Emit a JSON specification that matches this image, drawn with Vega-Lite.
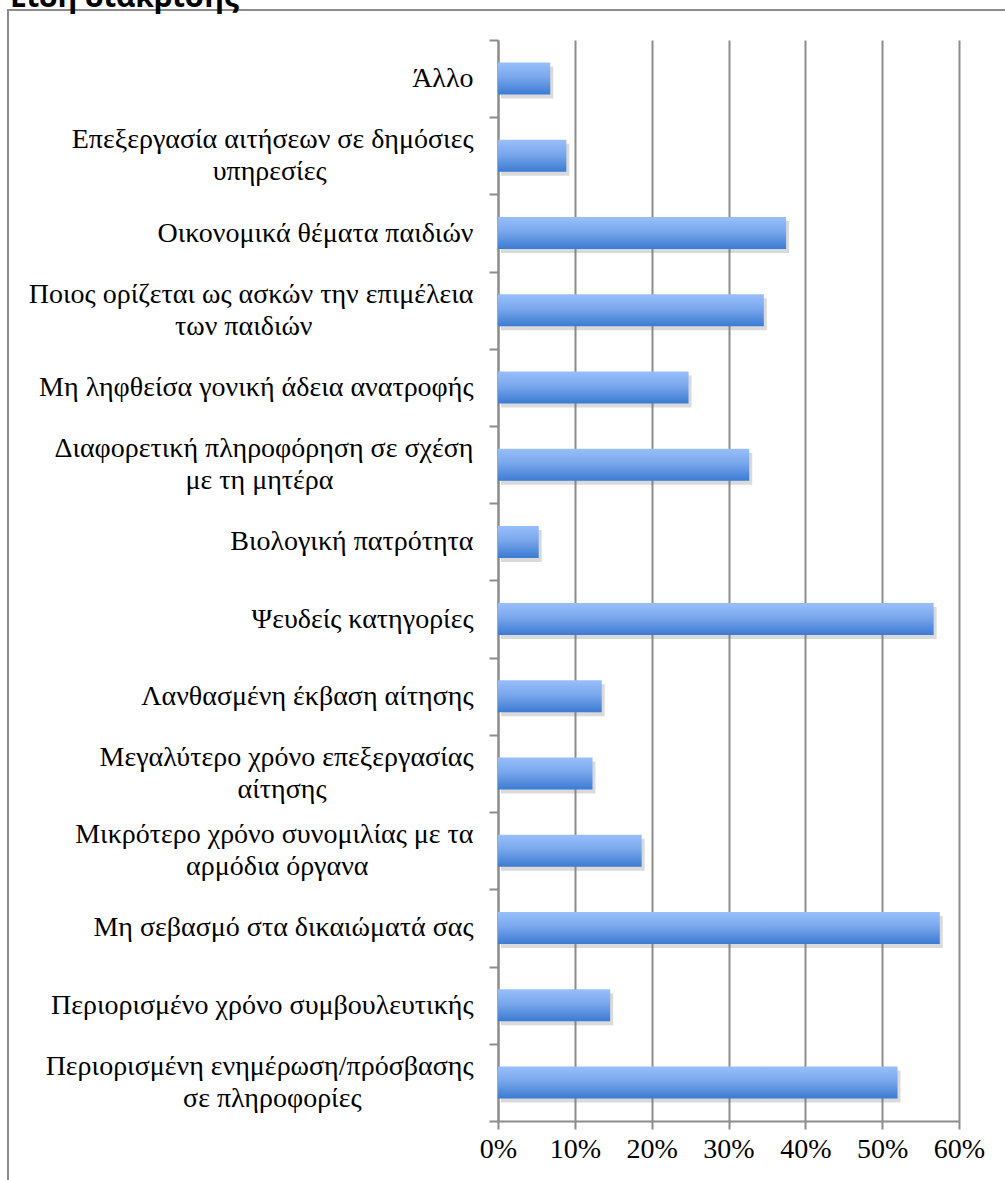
{
  "$schema": "https://vega.github.io/schema/vega-lite/v6.json",
  "autosize": "none",
  "padding": {"left": 498, "top": 40, "right": 46, "bottom": 59},
  "width": 461,
  "height": 1081,
  "background": "white",
  "config": {
    "view": {"stroke": null},
    "axis": {
      "labelFont": "Liberation Serif",
      "labelFontSize": 28,
      "labelColor": "#000000",
      "domainColor": "#8c8c8c",
      "domainWidth": 2,
      "tickColor": "#8c8c8c",
      "tickWidth": 2,
      "gridColor": "#8c8c8c",
      "gridWidth": 2,
      "gridOpacity": 1
    }
  },
  "data": {
    "values": [
      {"category": "Άλλο", "share": 0.068},
      {"category": "Επεξεργασία αιτήσεων σε δημόσιες|υπηρεσίες", "share": 0.089},
      {"category": "Οικονομικά θέματα παιδιών", "share": 0.375},
      {"category": "Ποιος ορίζεται ως ασκών την επιμέλεια|των παιδιών", "share": 0.346},
      {"category": "Μη ληφθείσα γονική άδεια ανατροφής", "share": 0.248},
      {"category": "Διαφορετική πληροφόρηση σε σχέση|με τη μητέρα", "share": 0.327},
      {"category": "Βιολογική πατρότητα", "share": 0.053},
      {"category": "Ψευδείς κατηγορίες", "share": 0.567},
      {"category": "Λανθασμένη έκβαση αίτησης", "share": 0.135},
      {"category": "Μεγαλύτερο χρόνο επεξεργασίας|αίτησης", "share": 0.123},
      {"category": "Μικρότερο χρόνο συνομιλίας με τα|αρμόδια όργανα", "share": 0.187},
      {"category": "Μη σεβασμό στα δικαιώματά σας", "share": 0.575},
      {"category": "Περιορισμένο χρόνο συμβουλευτικής", "share": 0.146},
      {"category": "Περιορισμένη ενημέρωση/πρόσβασης|σε πληροφορίες", "share": 0.52}
    ]
  },
  "layer": [
    {
      "data": {"values": [{}]},
      "mark": {"type": "rect", "fill": null, "stroke": "#8c8c8c", "strokeWidth": 2, "clip": false},
      "encoding": {
        "x": {"value": -490},
        "x2": {"value": 520},
        "y": {"value": -30},
        "y2": {"value": 1160}
      }
    },
    {
      "data": {"values": [{"heading": "Είδη διάκρισης"}]},
      "mark": {"type": "text", "font": "Open Sans", "fontSize": 30, "fontWeight": "bold", "color": "#000000", "align": "left", "baseline": "alphabetic", "clip": false},
      "encoding": {
        "text": {"field": "heading"},
        "x": {"value": -488},
        "y": {"value": -33}
      }
    },
    {
      "mark": {"type": "bar", "size": 32, "color": "#7a7a7a", "opacity": 0.28, "xOffset": 3, "yOffset": 4},
      "encoding": {
        "y": {"field": "category", "type": "nominal", "sort": null},
        "x": {"field": "share", "type": "quantitative"}
      }
    },
    {
      "mark": {
        "type": "bar",
        "size": 32,
        "color": {
          "gradient": "linear",
          "x1": 0, "y1": 0, "x2": 0, "y2": 1,
          "stops": [
            {"offset": 0, "color": "#98bffb"},
            {"offset": 0.45, "color": "#7aa7ec"},
            {"offset": 1, "color": "#3b7bd2"}
          ]
        }
      },
      "encoding": {
        "y": {
          "field": "category",
          "type": "nominal",
          "sort": null,
          "title": null,
          "scale": {"paddingInner": 0, "paddingOuter": 0},
          "axis": {
            "tickBand": "extent",
            "tickSize": 9,
            "labelPadding": 16,
            "labelAlign": "right",
            "labelOffset": {"condition": {"test": "indexof(datum.value || '', '|') >= 0", "value": -16}, "value": 0},
            "labelExpr": "!datum.value ? '' : indexof(datum.value, '|') < 0 ? datum.value : [split(datum.value, '|')[0], pad(split(datum.value, '|')[1], length(split(datum.value, '|')[1]) + (indexof(datum.value, 'υπηρεσίες') >= 0 ? 21 : indexof(datum.value, 'των παιδιών') >= 0 ? 23 : indexof(datum.value, 'μητέρα') >= 0 ? 20 : indexof(datum.value, 'Μεγαλύτερο') >= 0 ? 21 : indexof(datum.value, 'όργανα') >= 0 ? 15 : 16), '\u00a0') + '\u200b']",
            "labelLineHeight": 32,
            "labelLimit": 600,
            "labelOverlap": false,
            "labelBound": false
          }
        },
        "x": {
          "field": "share",
          "type": "quantitative",
          "title": null,
          "scale": {"domain": [0, 0.6], "nice": false},
          "axis": {
            "values": [0, 0.1, 0.2, 0.3, 0.4, 0.5, 0.6],
            "format": ".0%",
            "tickSize": 8,
            "labelPadding": 6,
            "grid": true,
            "labelFlush": false,
            "labelOverlap": false
          }
        }
      }
    }
  ]
}
